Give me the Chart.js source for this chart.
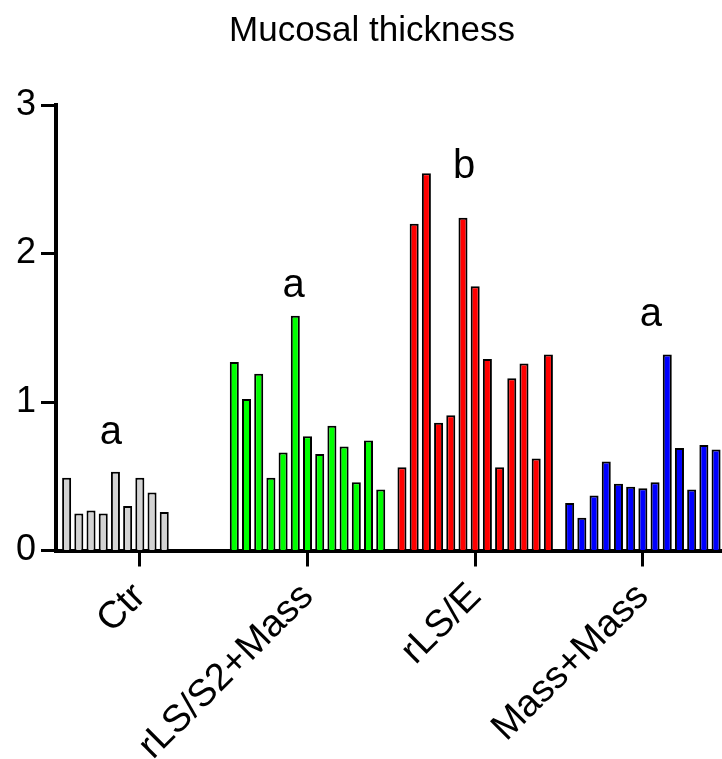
<!DOCTYPE html>
<html>
<head>
<meta charset="utf-8">
<title>Mucosal thickness</title>
<script src="https://cdn.jsdelivr.net/npm/chart.js@4.4.1/dist/chart.umd.min.js"></script>
<style>
  html, body { margin: 0; padding: 0; background: #ffffff; overflow: hidden; }
  #wrap { position: relative; width: 728px; height: 759px; }
</style>
</head>
<body>
<div id="wrap"><canvas id="chart"></canvas></div>
<script>
// Group names along the x axis
const groups = ['Ctr', 'rLS/S2+Mass', 'rLS/E', 'Mass+Mass'];

// Individual measurements per animal, one bar each
const ctrValues       = [0.49, 0.25, 0.27, 0.25, 0.53, 0.30, 0.49, 0.39, 0.26];
const rlsS2MassValues = [1.27, 1.02, 1.19, 0.49, 0.66, 1.58, 0.77, 0.65, 0.84, 0.70, 0.46, 0.74, 0.41];
const rlsEValues      = [0.56, 2.20, 2.54, 0.86, 0.91, 2.24, 1.78, 1.29, 0.56, 1.16, 1.26, 0.62, 1.32];
const massMassValues  = [0.32, 0.22, 0.37, 0.60, 0.45, 0.43, 0.42, 0.46, 1.32, 0.69, 0.41, 0.71, 0.68];

// Significance letters and the level their baseline sits at
const sigLetters      = ['a', 'a', 'b', 'a'];
const sigLetterLevels = [0.72, 1.71, 2.51, 1.51];

// Y axis tick values
const yTickValues = [0, 1, 2, 3];

// ---- styling ----
const groupColors = ['#d3d3d3', '#00ff00', '#ff0000', '#0000ff'];
const FONT = '"Liberation Sans", Arial, Helvetica, sans-serif';
const letterShift = [-0.173, -0.083, -0.066, 0.048]; // fraction of a category width

// One dataset per replicate slot so each group shows its bars side by side
const groupSeries = [ctrValues, rlsS2MassValues, rlsEValues, massMassValues];
const slotCount = Math.max(...groupSeries.map(s => s.length));
const datasets = [];
for (let k = 0; k < slotCount; k++) {
  datasets.push({
    label: 'rep ' + (k + 1),
    data: groupSeries.map(s => (k < s.length ? s[k] : null)),
    backgroundColor: groupColors,
    borderColor: '#000000',
    borderWidth: 2,
    categoryPercentage: 0.946,
    barPercentage: 0.74
  });
}

const annotations = {
  id: 'annotations',
  afterDraw(chart) {
    const { ctx, scales: { x, y } } = chart;
    const catW = x.getPixelForValue(1) - x.getPixelForValue(0);
    ctx.save();
    ctx.fillStyle = '#000000';
    ctx.textAlign = 'center';
    ctx.textBaseline = 'alphabetic';
    ctx.font = '40px ' + FONT;
    sigLetters.forEach((t, i) => {
      ctx.fillText(t, x.getPixelForValue(i) + letterShift[i] * catW, y.getPixelForValue(sigLetterLevels[i]));
    });
    ctx.font = '35px ' + FONT;
    ctx.fillText('Mucosal thickness', 372, 41);
    ctx.restore();
  }
};

new Chart(document.getElementById('chart'), {
  type: 'bar',
  data: { labels: groups, datasets },
  options: {
    responsive: true,
    maintainAspectRatio: false,
    animation: false,
    devicePixelRatio: 1,
    layout: { padding: { top: 105, right: 1.3, bottom: 0, left: 0 } },
    plugins: {
      legend: { display: false },
      tooltip: { enabled: false },
      title: { display: false }
    },
    scales: {
      x: {
        type: 'category',
        offset: true,
        grid: {
          display: true, offset: false, drawOnChartArea: false, drawTicks: true,
          tickLength: 16, tickWidth: 3, tickColor: '#000000', color: '#000000'
        },
        border: { display: true, color: '#000000', width: 4 },
        ticks: {
          autoSkip: false, minRotation: 45, maxRotation: 45, padding: 8,
          color: '#000000', font: { family: FONT, size: 38 }
        },
        afterFit(scale) { scale.height = 208.5; }
      },
      y: {
        min: 0, max: 3,
        afterBuildTicks(scale) { scale.ticks = yTickValues.map(v => ({ value: v })); },
        grid: {
          display: true, drawOnChartArea: false, drawTicks: true,
          tickLength: 15, tickWidth: 3, tickColor: '#000000', color: '#000000'
        },
        border: { display: true, color: '#000000', width: 4 },
        ticks: {
          padding: 5, color: '#000000', font: { family: FONT, size: 36 },
          callback: v => String(v)
        },
        afterFit(scale) { scale.width = 56; }
      }
    }
  },
  plugins: [annotations]
});
</script>
</body>
</html>
